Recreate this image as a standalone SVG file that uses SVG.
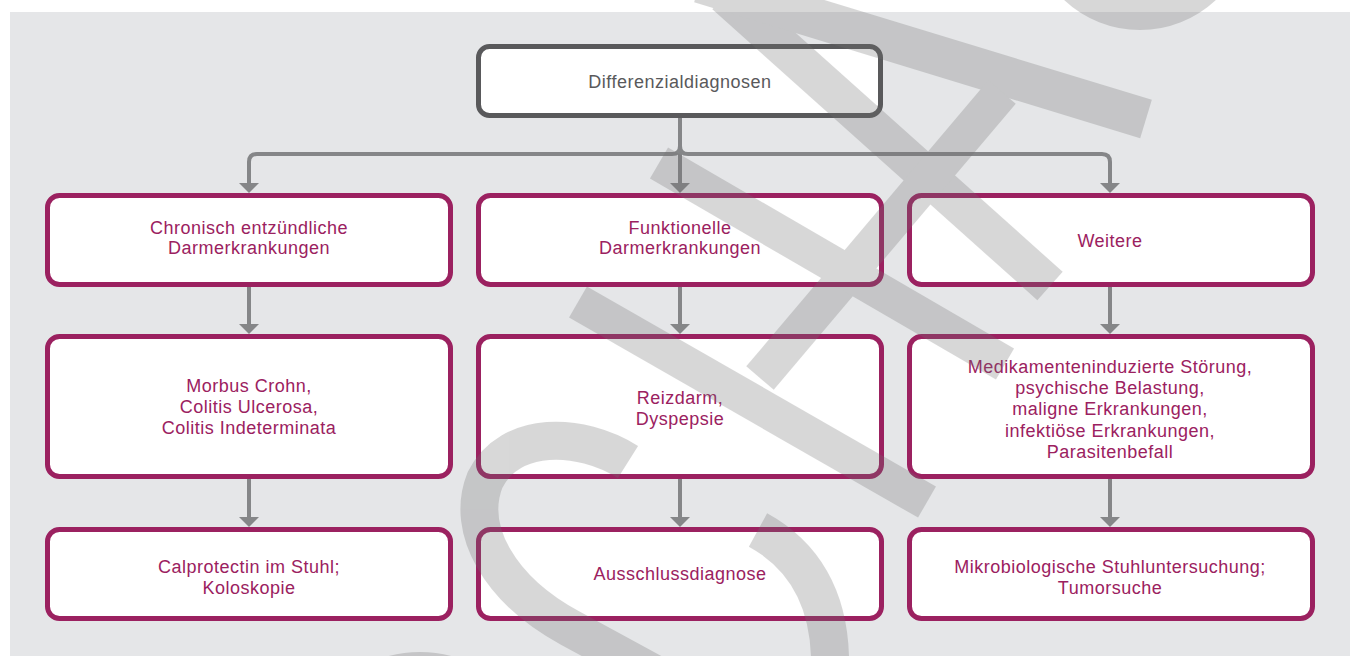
<svg xmlns="http://www.w3.org/2000/svg" width="1350" height="656" viewBox="0 0 1350 656">
  <style>
    .box { fill: #ffffff; stroke: #9b2160; stroke-width: 5; }
    .top { fill: #ffffff; stroke: #59595b; stroke-width: 5; }
    .lbl { font-family: "Liberation Sans", Arial, sans-serif; font-size: 18px; letter-spacing: 0.5px; fill: #9b2160; text-anchor: middle; }
    .lbl-top { fill: #59595b; }
    .conn { fill: none; stroke: #858688; stroke-width: 4; }
    .wm { fill: none; stroke: #707070; stroke-width: 38; stroke-linecap: butt; }
  </style>
  <defs>
    <marker id="arr" viewBox="0 0 10 20" refX="0" refY="10" markerWidth="10" markerHeight="20" markerUnits="userSpaceOnUse" orient="auto">
      <path d="M0,0 L10,10 L0,20 Z" fill="#858688"/>
    </marker>
  </defs>

  <rect x="0" y="0" width="1350" height="656" fill="#ffffff"/>
  <rect x="10" y="12" width="1340" height="644" fill="#e5e6e8"/>

  <g id="connectors">
    <path class="conn" d="M680 118 V183" marker-end="url(#arr)"/>
    <path class="conn" d="M680 146 Q680 154 672 154 H257 Q249 154 249 162 V183" marker-end="url(#arr)"/>
    <path class="conn" d="M680 146 Q680 154 688 154 H1102 Q1110 154 1110 162 V183" marker-end="url(#arr)"/>
    <path class="conn" d="M249 287 V324" marker-end="url(#arr)"/>
    <path class="conn" d="M680 287 V324" marker-end="url(#arr)"/>
    <path class="conn" d="M1110 287 V324" marker-end="url(#arr)"/>
    <path class="conn" d="M249 479 V517" marker-end="url(#arr)"/>
    <path class="conn" d="M680 479 V517" marker-end="url(#arr)"/>
    <path class="conn" d="M1110 479 V517" marker-end="url(#arr)"/>
  </g>

  <g id="node-root">
    <rect class="top" x="478.5" y="46.5" width="402" height="69" rx="11"/>
    <text class="lbl lbl-top" x="680" y="88">Differenzialdiagnosen</text>
  </g>

  <g id="node-ced">
    <rect class="box" x="47.5" y="195.5" width="403" height="89" rx="12"/>
    <text class="lbl" x="249" y="234">Chronisch entzündliche</text>
    <text class="lbl" x="249" y="254">Darmerkrankungen</text>
  </g>
  <g id="node-funktionell">
    <rect class="box" x="478.5" y="195.5" width="403" height="89" rx="12"/>
    <text class="lbl" x="680" y="234">Funktionelle</text>
    <text class="lbl" x="680" y="254">Darmerkrankungen</text>
  </g>
  <g id="node-weitere">
    <rect class="box" x="909.5" y="195.5" width="403" height="89" rx="12"/>
    <text class="lbl" x="1110" y="246.5">Weitere</text>
  </g>

  <g id="node-morbus">
    <rect class="box" x="47.5" y="336.5" width="403" height="140" rx="12"/>
    <text class="lbl" x="249" y="392">Morbus Crohn,</text>
    <text class="lbl" x="249" y="413">Colitis Ulcerosa,</text>
    <text class="lbl" x="249" y="434">Colitis Indeterminata</text>
  </g>
  <g id="node-reizdarm">
    <rect class="box" x="478.5" y="336.5" width="403" height="140" rx="12"/>
    <text class="lbl" x="680" y="404">Reizdarm,</text>
    <text class="lbl" x="680" y="425">Dyspepsie</text>
  </g>
  <g id="node-medikamente">
    <rect class="box" x="909.5" y="336.5" width="403" height="140" rx="12"/>
    <text class="lbl" x="1110" y="373">Medikamenteninduzierte Störung,</text>
    <text class="lbl" x="1110" y="394">psychische Belastung,</text>
    <text class="lbl" x="1110" y="415">maligne Erkrankungen,</text>
    <text class="lbl" x="1110" y="437">infektiöse Erkrankungen,</text>
    <text class="lbl" x="1110" y="458">Parasitenbefall</text>
  </g>

  <g id="node-calprotectin">
    <rect class="box" x="47.5" y="529.5" width="403" height="89" rx="12"/>
    <text class="lbl" x="249" y="573">Calprotectin im Stuhl;</text>
    <text class="lbl" x="249" y="594">Koloskopie</text>
  </g>
  <g id="node-ausschluss">
    <rect class="box" x="478.5" y="529.5" width="403" height="89" rx="12"/>
    <text class="lbl" x="680" y="580">Ausschlussdiagnose</text>
  </g>
  <g id="node-mikrobiologie">
    <rect class="box" x="909.5" y="529.5" width="403" height="89" rx="12"/>
    <text class="lbl" x="1110" y="573">Mikrobiologische Stuhluntersuchung;</text>
    <text class="lbl" x="1110" y="594">Tumorsuche</text>
  </g>

  <g id="watermark" opacity="0.27">
    <line class="wm" x1="725" y1="-5" x2="1050" y2="286"/>
    <line class="wm" x1="700" y1="-17" x2="1146" y2="119" style="stroke-width:40"/>
    <line class="wm" x1="1002" y1="92" x2="760" y2="378" style="stroke-width:36"/>
    <line class="wm" x1="578" y1="302" x2="927" y2="502" style="stroke-width:36"/>
    <line class="wm" x1="659" y1="163" x2="1005" y2="364" style="stroke-width:36"/>
    <circle class="wm" cx="1140" cy="-81" r="93" style="stroke-width:36"/>
    <path class="wm" d="M628 462 C580 432 510 430 485 480 C465 530 500 590 570 628 L662 678"/>
    <path class="wm" d="M758 530 C800 553 832 595 830 670"/>
    <circle class="wm" cx="420" cy="775" r="105" style="stroke-width:36"/>
  </g>
</svg>
